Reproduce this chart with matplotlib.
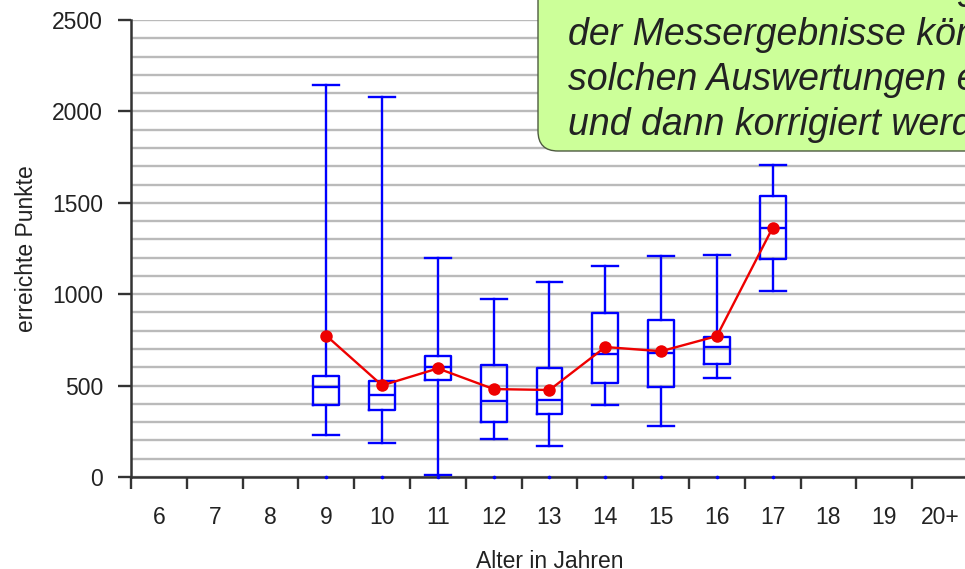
import matplotlib
matplotlib.use("Agg")
import matplotlib.pyplot as plt
from matplotlib.patches import FancyBboxPatch
from matplotlib.ticker import MultipleLocator, FixedLocator, NullFormatter

# Age groups on the x axis
ages = ["6", "7", "8", "9", "10", "11", "12", "13", "14", "15", "16", "17", "18", "19", "20+"]

# Groups that have measurements
measured = ["9", "10", "11", "12", "13", "14", "15", "16", "17"]
whisker_low = [230, 188, 9, 206, 168, 396, 281, 543, 1019]
q1 = [396, 366, 529, 299, 343, 516, 491, 616, 1193]
median = [492, 449, 603, 416, 421, 671, 680, 710, 1364]
q3 = [552, 527, 660, 613, 596, 899, 861, 768, 1535]
whisker_high = [2144, 2079, 1198, 974, 1068, 1153, 1207, 1216, 1708]
mean = [773, 501, 594, 481, 476, 711, 688, 771, 1364]

note_lines = [
    "Fehler bei der Erfassung",
    "der Messergebnisse können in",
    "solchen Auswertungen erkannt",
    "und dann korrigiert werden.",
]

plt.rcParams["font.family"] = ["Liberation Sans", "DejaVu Sans"]

W, H = 965, 569
fig = plt.figure(figsize=(W / 100, H / 100), dpi=100)
ax = fig.add_axes([131 / W, (H - 477) / H, (968 - 131) / W, (477 - 20) / H])

blue = "#0000ff"
red = "#ee0000"
txt = "#222222"
axis_col = "#333333"

positions = [ages.index(a) for a in measured]
stats = []
for i in range(len(measured)):
    stats.append(dict(whislo=whisker_low[i], q1=q1[i], med=median[i],
                      q3=q3[i], whishi=whisker_high[i], fliers=[]))

line_kw = dict(color=blue, linewidth=1.7)
ax.bxp(stats, positions=positions, widths=0.46, capwidths=0.46,
       showfliers=False, patch_artist=False,
       boxprops=line_kw, whiskerprops=line_kw, capprops=line_kw,
       medianprops=line_kw, manage_ticks=False, zorder=3)

# small markers on the baseline for each measured group
ax.plot(positions, [0] * len(positions), linestyle="none", marker="o",
        markersize=1.6, color=blue, clip_on=False, zorder=8)

# mean values connected by a line
ax.plot(positions, mean, color=red, linewidth=1.7, marker="o",
        markersize=9, markeredgewidth=0, zorder=5)

ax.set_xlim(-0.5, len(ages) - 0.5)
ax.set_ylim(0, 2500)

# y axis: labels every 500, grid every 100
ax.yaxis.set_major_locator(MultipleLocator(500))
ax.yaxis.set_minor_locator(MultipleLocator(100))
ax.grid(True, axis="y", which="both", color="#bababa", linewidth=1.7, zorder=0)
ax.set_axisbelow(True)
ax.tick_params(axis="y", which="major", direction="out", length=9.4, width=1.7,
               color=axis_col, labelsize=16.5, labelcolor=txt, pad=10.8)
ax.tick_params(axis="y", which="minor", length=0)

# x axis: ticks at group boundaries, labels at group centres
ax.xaxis.set_major_locator(FixedLocator([i - 0.5 for i in range(len(ages) + 1)]))
ax.xaxis.set_major_formatter(NullFormatter())
ax.xaxis.set_minor_locator(FixedLocator(range(len(ages))))
ax.set_xticklabels(ages, minor=True)
ax.tick_params(axis="x", which="major", direction="out", length=8.6, width=1.7,
               color=axis_col)
ax.tick_params(axis="x", which="minor", length=0, labelsize=16.5,
               labelcolor=txt, pad=21)

for side in ("top", "right"):
    ax.spines[side].set_visible(False)
for side in ("left", "bottom"):
    ax.spines[side].set_color(axis_col)
    ax.spines[side].set_linewidth(1.8)
    ax.spines[side].set_zorder(6)

ax.set_ylabel("erreichte Punkte", fontsize=16.5, color=txt)
ax.yaxis.set_label_coords(-0.111, 0.5)
ax.set_xlabel("Alter in Jahren", fontsize=16.5, color=txt)
ax.xaxis.set_label_coords(0.5, -(550 - 477) / 457)

# callout note in the upper right corner
tr = fig.dpi_scale_trans
box = FancyBboxPatch((538 / 100, (H - 151) / 100), 6.0, 3.0,
                     boxstyle="round,pad=0,rounding_size=0.2",
                     transform=tr, facecolor="#ccff99", edgecolor="#4d5a40",
                     linewidth=1.0, zorder=10)
fig.patches.append(box)
baselines = [-1, 45, 90, 135]
for line, yb in zip(note_lines, baselines):
    fig.text(568 / 100, (H - yb) / 100, line, transform=tr, fontsize=27,
             fontstyle="italic", color=txt, ha="left", va="baseline", zorder=11)

fig.savefig("out.png", dpi=100)
